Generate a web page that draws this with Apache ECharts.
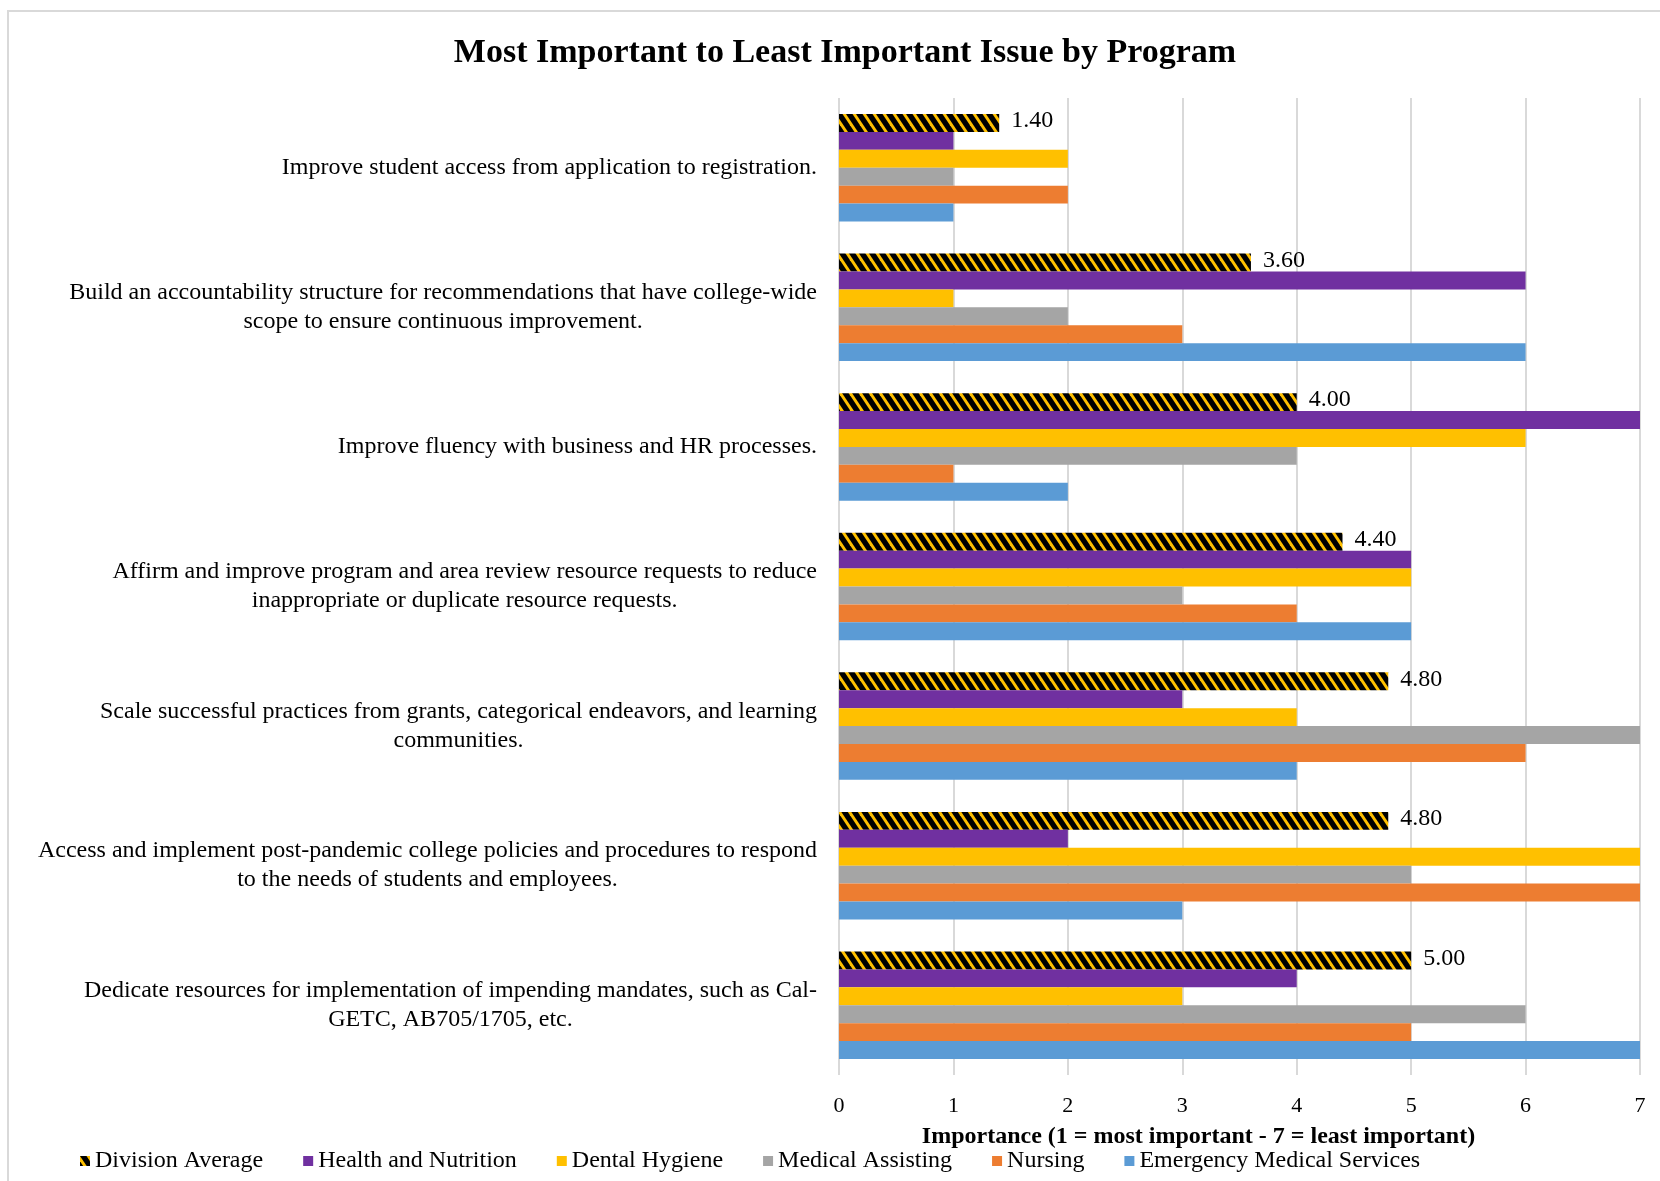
<!DOCTYPE html>
<html>
<head>
<meta charset="utf-8">
<script src="https://cdn.jsdelivr.net/npm/echarts@6/dist/echarts.min.js"></script>
<style>
  html, body { margin: 0; padding: 0; background: #fff; }
  #chart { width: 1660px; height: 1181px; }
</style>
</head>
<body>
<div id="chart"></div>
<script>
// ---- Data ----
const categories = [
  'Improve student access from application to registration.',
  'Build an accountability structure for recommendations that have college-wide\nscope to ensure continuous improvement.',
  'Improve fluency with business and HR processes.',
  'Affirm and improve program and area review resource requests to reduce\ninappropriate or duplicate resource requests.',
  'Scale successful practices from grants, categorical endeavors, and learning\ncommunities.',
  'Access and implement post-pandemic college policies and procedures to respond\nto the needs of students and employees.',
  'Dedicate resources for implementation of impending mandates, such as Cal-\nGETC, AB705/1705, etc.'
];
const seriesNames = ['Division Average', 'Health and Nutrition', 'Dental Hygiene', 'Medical Assisting', 'Nursing', 'Emergency Medical Services'];
const divisionAverage = [1.40, 3.60, 4.00, 4.40, 4.80, 4.80, 5.00];
const healthNutrition = [1, 6, 7, 5, 3, 2, 4];
const dentalHygiene = [2, 1, 6, 5, 4, 7, 3];
const medicalAssisting = [1, 2, 4, 3, 7, 5, 6];
const nursing = [2, 3, 1, 4, 6, 7, 5];
const ems = [1, 6, 2, 5, 4, 3, 7];
const xTicks = [0, 1, 2, 3, 4, 5, 6, 7];

// ---- Hatch pattern for Division Average ----
function makeHatch() {
  const c = document.createElement('canvas');
  c.width = 10; c.height = 15;
  const ctx = c.getContext('2d');
  ctx.fillStyle = '#FFC000';
  ctx.fillRect(0, 0, 10, 15);
  ctx.fillStyle = '#000000';
  [-10, 0, 10].forEach(function (o) {
    ctx.beginPath();
    ctx.moveTo(o, 0);
    ctx.lineTo(o + 6.5, 0);
    ctx.lineTo(o + 16.5, 15);
    ctx.lineTo(o + 10, 15);
    ctx.closePath();
    ctx.fill();
  });
  return c;
}
const hatch = { image: makeHatch(), repeat: 'repeat' };

const FONT = "'Liberation Serif', 'Times New Roman', serif";
const colors = [hatch, '#7030A0', '#FFC000', '#A5A5A5', '#ED7D31', '#5B9BD5'];
const dataSets = [divisionAverage, healthNutrition, dentalHygiene, medicalAssisting, nursing, ems];

const series = seriesNames.map(function (name, i) {
  const s = {
    name: name,
    type: 'bar',
    data: dataSets[i],
    barGap: '0%',
    barCategoryGap: '23%',
    itemStyle: { color: colors[i] },
    emphasis: { disabled: true },
    animation: false
  };
  if (i === 0) {
    s.label = {
      show: true,
      position: 'right',
      distance: 12,
      offset: [0, -2],
      formatter: function (p) { return p.value.toFixed(2); },
      fontFamily: FONT,
      fontSize: 24,
      color: '#000'
    };
  }
  return s;
});

const chart = echarts.init(document.getElementById('chart'), null, { renderer: 'canvas' });
chart.setOption({
  backgroundColor: '#fff',
  animation: false,
  title: {
    text: 'Most Important to Least Important Issue by Program',
    left: 840,
    textAlign: 'center',
    top: 31,
    textStyle: { fontFamily: FONT, fontWeight: 'bold', fontSize: 34, color: '#000' }
  },
  graphic: [{
    type: 'rect',
    shape: { x: 8, y: 11, width: 1700, height: 1250 },
    style: { fill: 'none', stroke: '#D9D9D9', lineWidth: 2 },
    silent: true,
    z: -1
  }],
  legend: {
    data: seriesNames,
    left: 75,
    top: 1144,
    icon: 'rect',
    itemWidth: 10,
    itemHeight: 10,
    itemGap: 40,
    textStyle: { fontFamily: FONT, fontSize: 24, color: '#000' }
  },
  grid: { left: 839, right: 20, top: 98, bottom: 106, containLabel: false },
  xAxis: {
    type: 'value',
    min: 0,
    max: 7,
    interval: 1,
    axisLine: { show: false },
    axisTick: { show: false },
    splitLine: { show: true, lineStyle: { color: '#D9D9D9', width: 2 } },
    axisLabel: {
      margin: 20,
      fontFamily: FONT,
      fontSize: 22,
      color: '#000',
      formatter: function (v) { return xTicks.indexOf(v) >= 0 ? String(v) : ''; }
    },
    name: 'Importance (1 = most important - 7 = least important)',
    nameLocation: 'middle',
    nameGap: 50,
    nameTextStyle: { fontFamily: FONT, fontWeight: 'bold', fontSize: 24, color: '#000', padding: [0, 82, 0, 0] }
  },
  yAxis: {
    type: 'category',
    inverse: true,
    data: categories,
    axisLine: { show: false },
    axisTick: { show: false },
    splitLine: { show: false },
    axisLabel: {
      margin: 22,
      formatter: function (v) {
        return v.split('\n').map(function (l) { return '{c|' + l + '}'; }).join('\n');
      },
      rich: {
        c: { fontFamily: FONT, fontSize: 24, color: '#000', align: 'center', lineHeight: 29 }
      }
    }
  },
  series: series
});
</script>
</body>
</html>
